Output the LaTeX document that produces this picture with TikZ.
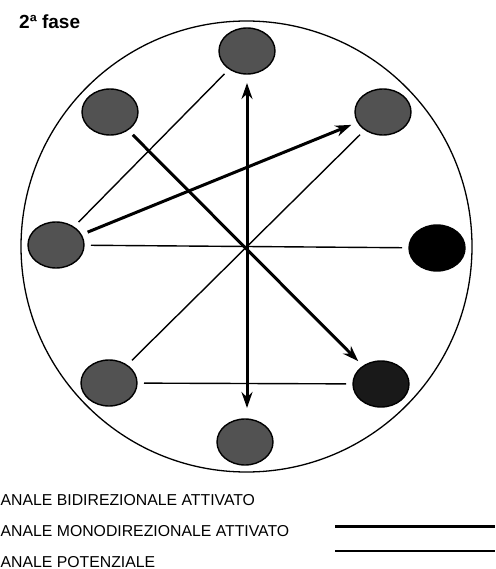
\documentclass[tikz,border=0pt]{standalone}
\usepackage{fontspec}
\setmainfont{Liberation Sans}
\usetikzlibrary{shapes.geometric,arrows.meta}
\tikzset{
  cell/.style={ellipse,draw=black,line width=1.4pt,minimum width=56pt,minimum height=46pt,inner sep=0pt,outer sep=7pt,fill=black!68},
  potential/.style={line width=1.4pt},
  active/.style={line width=3pt},
  tip/.style={-{Stealth[length=16pt,width=11pt]}},
  biTip/.style={{Stealth[length=16pt,width=11pt]}-{Stealth[length=16pt,width=11pt]}},
  legendtext/.style={anchor=base west,inner sep=0pt,font=\fontsize{15.8pt}{17pt}\selectfont}
}
\begin{document}
\begin{tikzpicture}[x=1pt,y=-1pt]
\useasboundingbox (0,0) rectangle (495,569);
\node[anchor=base west,inner sep=0pt,font=\fontsize{19pt}{21pt}\selectfont\bfseries] (title) at (19,29) {2ª fase};
\node[draw,circle,line width=1.3pt,minimum size=451pt,inner sep=0pt] (ring) at (246.5,246.5) {};
\node[cell] (T) at (247,51) {};
\node[cell] (UL) at (110,112) {};
\node[cell] (UR) at (383,112) {};
\node[cell] (L) at (56,245) {};
\node[cell,fill=black] (R) at (437,248) {};
\node[cell] (LL) at (109,383) {};
\node[cell,fill=black!90] (LR) at (381,384) {};
\node[cell] (B) at (245,442) {};
% potential channels
\draw[potential] (L) -- (T);
\draw[potential] (L) -- (R);
\draw[potential] (UR) -- (LL);
\draw[potential] (LL) -- (LR);
% activated channels
\draw[active,tip] (L) -- (UR);
\draw[active,tip] (UL) -- (LR);
\draw[active,biTip,shorten <=2pt,shorten >=4pt] (T.south) -- (T.south |- B.north);
% legend
\node[legendtext] (t1) at (0.5,505) {ANALE BIDIREZIONALE ATTIVATO};
\node[legendtext] (t2) at (0.5,536) {ANALE MONODIREZIONALE ATTIVATO};
\node[legendtext] (t3) at (0.5,567) {ANALE POTENZIALE};
\coordinate (m1) at (335,526);
\coordinate (m2) at (495,526);
\coordinate (p1) at (335,551);
\coordinate (p2) at (495,551);
\draw[active] (m1) -- (m2);
\draw[potential] (p1) -- (p2);
\end{tikzpicture}
\end{document}
